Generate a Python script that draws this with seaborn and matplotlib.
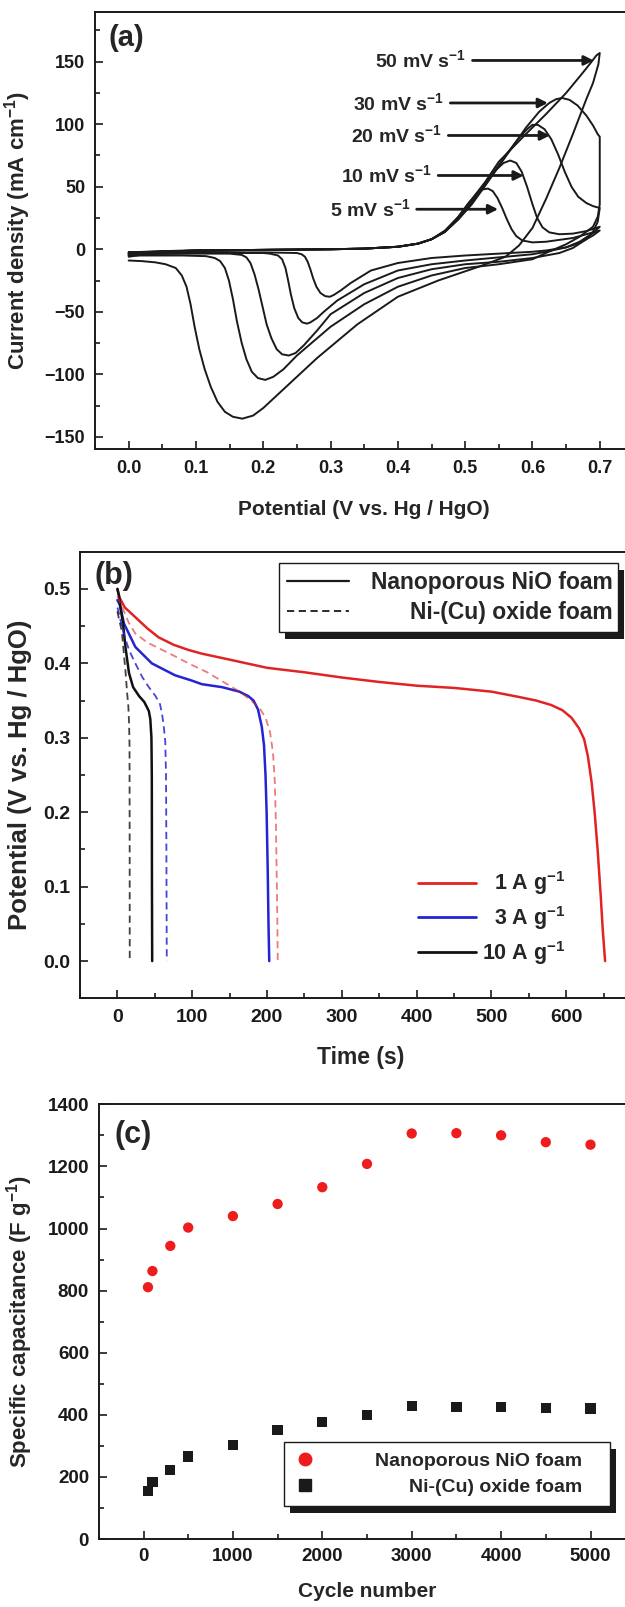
import numpy as np
import pandas as pd
import matplotlib
matplotlib.use("Agg")
import matplotlib.pyplot as plt
from matplotlib.lines import Line2D
from matplotlib.patches import Rectangle
from matplotlib.ticker import MultipleLocator, FormatStrFormatter
import seaborn as sns

# -- (a) cyclic voltammograms, potential (V) / current density -----------------
rates = ["5", "10", "20", "30", "50"]
cv5_e = [0.00, 0.05, 0.10, 0.20, 0.30, 0.35, 0.40, 0.43, 0.45, 0.47, 0.49, 0.505, 0.518, 0.527, 0.534,
         0.541, 0.548, 0.555, 0.562, 0.569, 0.576, 0.585, 0.60, 0.62, 0.66, 0.70,
         0.69, 0.67, 0.65, 0.62, 0.60, 0.55, 0.50, 0.45, 0.40, 0.36, 0.33, 0.315, 0.305, 0.299,
         0.292, 0.285, 0.279, 0.274, 0.27, 0.266, 0.262, 0.257, 0.25, 0.20, 0.10, 0.00]
cv5_i = [-2.5, -1.5, -1.0, -0.5, 0.0, 0.5, 2.0, 4.5, 8.0, 15, 26, 37, 45, 48, 48.5,
         46.5, 41, 33, 24, 16, 10.5, 7, 5.5, 6, 9, 15,
         11, 5, 1.5, -1, -2, -3.5, -5, -7, -11, -17, -27, -33, -36.5, -38,
         -37.5, -35, -30, -23, -16, -10, -6, -4, -3, -2.5, -2.5, -2.5]
cv10_e = [0.00, 0.05, 0.10, 0.20, 0.30, 0.35, 0.40, 0.43, 0.45, 0.47, 0.49, 0.51, 0.53, 0.545, 0.557,
          0.567, 0.576, 0.584, 0.592, 0.60, 0.607, 0.615, 0.625, 0.64, 0.66, 0.68, 0.70,
          0.69, 0.67, 0.65, 0.62, 0.60, 0.55, 0.50, 0.45, 0.40, 0.35, 0.31, 0.29, 0.28, 0.27,
          0.265, 0.258, 0.252, 0.246, 0.241, 0.237, 0.233, 0.228, 0.222, 0.21, 0.20, 0.10, 0.00]
cv10_i = [-3, -1.5, -1, -0.5, 0, 0.5, 2, 4.5, 8, 14, 25, 38, 53, 63, 69,
          71, 69, 62, 50, 36, 25, 17.5, 13.5, 12, 12.5, 14.5, 18,
          13, 6, 1.5, -2, -4, -6.5, -9, -12, -17, -28, -41, -50, -55, -58.5,
          -59.5, -58.5, -55, -47, -36, -25, -15, -8, -5, -3.5, -3, -3, -3.5]
cv20_e = [0.00, 0.05, 0.10, 0.20, 0.30, 0.35, 0.40, 0.43, 0.45, 0.47, 0.49, 0.51, 0.53, 0.56, 0.58,
          0.592, 0.60, 0.608, 0.618, 0.628, 0.638, 0.648, 0.658, 0.668, 0.68, 0.69, 0.70,
          0.697, 0.69, 0.68, 0.66, 0.64, 0.60, 0.55, 0.50, 0.45, 0.40, 0.35, 0.30, 0.28, 0.26,
          0.248, 0.238, 0.228, 0.22, 0.212, 0.205, 0.199, 0.193, 0.187, 0.181, 0.175, 0.168, 0.15,
          0.10, 0.00]
cv20_i = [-4, -2, -1, -0.5, 0, 0.5, 2, 4.5, 8, 14, 24, 37, 52, 75, 89,
          96, 99.5, 99.5, 96, 88, 76, 62, 50, 42, 37, 34.5, 33,
          22, 14, 8, 1, -3, -7, -10, -12, -16, -23, -35, -52, -65, -77,
          -83, -85, -84, -80, -71, -60, -46, -32, -20, -11, -6.5, -4.5, -3.5,
          -3.5, -4]
cv30_e = [0.00, 0.05, 0.10, 0.20, 0.30, 0.35, 0.40, 0.43, 0.45, 0.47, 0.49, 0.51, 0.53, 0.56, 0.59,
          0.61, 0.625, 0.635, 0.644, 0.655, 0.667, 0.68, 0.69, 0.697, 0.70, 0.70,
          0.697, 0.69, 0.67, 0.65, 0.62, 0.60, 0.55, 0.50, 0.45, 0.40, 0.35, 0.30, 0.25, 0.23,
          0.215, 0.203, 0.192, 0.183, 0.175, 0.168, 0.161, 0.155, 0.149, 0.143, 0.136, 0.128,
          0.115, 0.08, 0.00]
cv30_i = [-5, -2, -1, -0.5, 0, 0.5, 2, 4.5, 8, 14, 24, 36, 51, 74, 97,
          110, 117, 120, 121, 119.5, 115, 107, 99, 92, 90, 36,
          26, 18, 10, 4, -3, -8, -12, -15, -21, -30, -44, -62, -85, -96,
          -102, -104.5, -103, -98, -88, -75, -58, -40, -25, -15, -9.5, -7,
          -5.5, -5, -5]
cv50_e = [0.00, 0.05, 0.10, 0.20, 0.30, 0.35, 0.40, 0.43, 0.45, 0.47, 0.49, 0.51, 0.53, 0.55, 0.59,
          0.62, 0.65, 0.67, 0.685, 0.695, 0.70,
          0.698, 0.69, 0.68, 0.66, 0.64, 0.62, 0.60, 0.58, 0.56, 0.52, 0.46, 0.40, 0.34, 0.28,
          0.22, 0.20, 0.185, 0.169, 0.155, 0.143, 0.132, 0.122, 0.113, 0.105, 0.098, 0.092, 0.086,
          0.079, 0.07, 0.055, 0.04, 0.02, 0.00]
cv50_i = [-6, -2, -1, -0.5, 0, 0.5, 2, 4.5, 8, 14, 26, 40, 54, 70, 92,
          108, 125, 138, 148, 155, 157,
          148, 133, 120, 92, 65, 40, 17, 3, -6, -14, -25, -38, -60, -87,
          -117, -127, -133, -135.5, -134, -130, -122, -110, -96, -80, -62, -44, -30,
          -21, -15, -12, -10.5, -9.5, -9]
rate_labels = ["50 mV s$^{-1}$", "30 mV s$^{-1}$", "20 mV s$^{-1}$", "10 mV s$^{-1}$", "5 mV s$^{-1}$"]
label_pos = [(0.502, 151), (0.469, 117), (0.466, 91), (0.451, 59), (0.419, 32)]
arrow_tip = [0.691, 0.623, 0.626, 0.587, 0.549]

# -- (b) discharge curves, time (s) / potential (V) ---------------------------
nio_1a_t = [0, 3, 10, 24, 40, 55, 75, 95, 113, 150, 200, 250, 300, 350, 400, 450, 500, 536, 560,
            580, 595, 607, 617, 624, 629, 634, 638, 642, 646, 649, 652]
nio_1a_v = [0.500, 0.488, 0.475, 0.462, 0.447, 0.435, 0.425, 0.418, 0.413, 0.405, 0.394, 0.388,
            0.381, 0.375, 0.370, 0.367, 0.362, 0.355, 0.350, 0.344, 0.337, 0.327, 0.313, 0.298,
            0.275, 0.240, 0.200, 0.150, 0.090, 0.040, 0.000]
nio_3a_t = [0, 3, 9, 24, 46, 77, 99, 113, 140, 163, 175, 182, 188, 193, 196, 198, 199.5, 201, 202, 203]
nio_3a_v = [0.485, 0.479, 0.453, 0.422, 0.400, 0.384, 0.377, 0.372, 0.368, 0.362, 0.356, 0.350,
            0.338, 0.315, 0.290, 0.250, 0.200, 0.120, 0.050, 0.000]
nio_10a_t = [0, 2.2, 5, 7.5, 11, 15.5, 21, 29, 36, 42, 44, 45.5, 46, 46.2, 46.5]
nio_10a_v = [0.500, 0.490, 0.470, 0.453, 0.420, 0.387, 0.368, 0.356, 0.348, 0.336, 0.325, 0.300,
             0.250, 0.100, 0.000]
cu_1a_t = [0, 2, 6.6, 15, 24, 40, 60, 80, 95, 120, 145, 165, 180, 190, 198, 204, 208, 210.5, 212,
           213.5, 214.4]
cu_1a_v = [0.490, 0.485, 0.475, 0.455, 0.440, 0.428, 0.418, 0.408, 0.400, 0.388, 0.373, 0.361,
           0.349, 0.340, 0.327, 0.308, 0.280, 0.240, 0.180, 0.080, 0.000]
cu_3a_t = [0, 2, 4.4, 10, 15.5, 24, 33, 42, 51, 57, 60, 62, 64, 65, 65.5, 66]
cu_3a_v = [0.475, 0.468, 0.457, 0.435, 0.418, 0.400, 0.382, 0.368, 0.356, 0.345, 0.330, 0.315,
           0.295, 0.250, 0.150, 0.000]
cu_10a_t = [0, 2, 5.8, 8, 11, 13, 14.6, 15.6, 16.2, 16.4, 16.5]
cu_10a_v = [0.470, 0.460, 0.444, 0.420, 0.387, 0.360, 0.343, 0.320, 0.290, 0.150, 0.000]
current_labels = ["1 A g$^{-1}$", "3 A g$^{-1}$", "10 A g$^{-1}$"]
current_colors = ["#e02424", "#2424d4", "#111111"]
foam_labels = ["Nanoporous NiO foam", "Ni-(Cu) oxide foam"]

# -- (c) cycling stability -----------------------------------------------------
cycles = [50, 100, 300, 500, 1000, 1500, 2000, 2500, 3000, 3500, 4000, 4500, 5000]
nio_cap = [811, 863, 944, 1003, 1040, 1079, 1133, 1208, 1306, 1307, 1300, 1278, 1270]
cu_cap = [155, 184, 222, 266, 302, 350, 377, 400, 428, 426, 424, 421, 420]

# -- style ---------------------------------------------------------------------
sns.set_theme(style="ticks")
plt.rcParams["font.family"] = ["Liberation Sans", "DejaVu Sans"]
plt.rcParams["font.weight"] = "bold"
plt.rcParams["axes.labelweight"] = "bold"
plt.rcParams["mathtext.fontset"] = "custom"
plt.rcParams["mathtext.rm"] = "Liberation Sans:bold"
plt.rcParams["mathtext.bf"] = "Liberation Sans:bold"
plt.rcParams["mathtext.default"] = "bf"
plt.rcParams["axes.linewidth"] = 1.4

fig = plt.figure(figsize=(6.25, 16.07), dpi=100)
W, H = 625, 1607


def px_rect(l, t, r, b):
    return [l / W, 1 - b / H, (r - l) / W, (b - t) / H]


def style_axis(ax, size, xpad):
    ax.tick_params(which="both", direction="in", top=False, right=False, width=1.2,
                   colors="k", labelsize=size)
    ax.tick_params(which="major", length=6, pad=7)
    ax.tick_params(which="minor", length=3.5)
    ax.tick_params(axis="x", which="major", pad=xpad)
    for side in ("left", "bottom", "top", "right"):
        ax.spines[side].set_color("k")
        ax.spines[side].set_linewidth(1.4)
    ax.set_facecolor("none")


ax_a = fig.add_axes(px_rect(95, 11.7, 633.4, 449.3))
ax_b = fig.add_axes(px_rect(80, 551.7, 641, 998.3))
ax_c = fig.add_axes(px_rect(98.8, 1104.3, 635.2, 1539))

# -- panel (a) -----------------------------------------------------------------
cv = pd.concat([
    pd.DataFrame({"E": e, "I": i, "rate": r})
    for r, e, i in zip(rates, [cv5_e, cv10_e, cv20_e, cv30_e, cv50_e],
                       [cv5_i, cv10_i, cv20_i, cv30_i, cv50_i])
], ignore_index=True)
sns.lineplot(data=cv, x="E", y="I", units="rate", estimator=None, sort=False,
             color="k", lw=1.4, ax=ax_a)
for lab, (x, y), tip in zip(rate_labels, label_pos, arrow_tip):
    ax_a.annotate(lab, xy=(tip, y), xytext=(x, y), ha="right", va="center",
                  fontsize=14, fontweight="bold",
                  arrowprops=dict(arrowstyle="-|>", color="k", lw=2, mutation_scale=14,
                                  shrinkA=2, shrinkB=0))
ax_a.set_xlim(-0.05, 0.75)
ax_a.set_ylim(-160, 190)
ax_a.set_xticks(np.arange(0, 0.71, 0.1))
ax_a.xaxis.set_minor_locator(MultipleLocator(0.05))
ax_a.yaxis.set_major_locator(MultipleLocator(50))
ax_a.yaxis.set_minor_locator(MultipleLocator(25))
ax_a.xaxis.set_major_formatter(FormatStrFormatter("%.1f"))
style_axis(ax_a, 13, 7.5)
ax_a.set_xlabel("Potential (V vs. Hg / HgO)", fontsize=15, labelpad=17)
ax_a.set_ylabel("Current density (mA cm$^{-1}$)", fontsize=16, labelpad=8)
ax_a.text(0.025, 0.94, "(a)", transform=ax_a.transAxes, fontsize=21, fontweight="bold",
          va="center", ha="left")

# -- panel (b) -----------------------------------------------------------------
solid = [(nio_1a_t, nio_1a_v), (nio_3a_t, nio_3a_v), (nio_10a_t, nio_10a_v)]
dashed = [(cu_1a_t, cu_1a_v), (cu_3a_t, cu_3a_v), (cu_10a_t, cu_10a_v)]
dash_alpha = [0.6, 0.85, 0.8]
for (t, v), c in zip(solid, current_colors):
    sns.lineplot(x=t, y=v, sort=False, color=c, lw=1.8, ax=ax_b)
for (t, v), c, a in zip(dashed, current_colors, dash_alpha):
    sns.lineplot(x=t, y=v, sort=False, color=c, lw=1.3, alpha=a, ax=ax_b,
                 linestyle=(0, (4, 2.5)))
ax_b.set_xlim(-50, 700)
ax_b.set_ylim(-0.05, 0.55)
ax_b.set_xticks(range(0, 700, 100))
ax_b.xaxis.set_minor_locator(MultipleLocator(50))
ax_b.yaxis.set_major_locator(MultipleLocator(0.1))
ax_b.yaxis.set_minor_locator(MultipleLocator(0.05))
ax_b.yaxis.set_major_formatter(FormatStrFormatter("%.1f"))
style_axis(ax_b, 14, 8)
ax_b.set_xlabel("Time (s)", fontsize=16.5, labelpad=14)
ax_b.set_ylabel("Potential (V vs. Hg / HgO)", fontsize=18.5, labelpad=8)
ax_b.text(0.025, 0.945, "(b)", transform=ax_b.transAxes, fontsize=22, fontweight="bold",
          va="center", ha="left")

foam_handles = [Line2D([], [], color="k", lw=1.6),
                Line2D([], [], color="k", lw=1.3, linestyle=(0, (4, 2.5)))]
leg_b1 = ax_b.legend(foam_handles, foam_labels, loc="upper left",
                     bbox_to_anchor=(0.355, 0.831, 0.604, 0.144), mode="expand",
                     fontsize=16.5, frameon=True, fancybox=False, edgecolor="k",
                     framealpha=1, handlelength=2.7, borderpad=0.35, labelspacing=0.3,
                     borderaxespad=0)
leg_b1.get_frame().set_linewidth(1.0)
ax_b.add_artist(leg_b1)
cur_handles = [Line2D([], [], color=c, lw=2) for c in current_colors]
leg_b2 = ax_b.legend(cur_handles, current_labels, loc="upper left",
                     bbox_to_anchor=(0.602, 0.089, 0.264, 0.20), mode="expand",
                     fontsize=15.5, frameon=False, handlelength=2.7, handletextpad=0.5,
                     borderpad=0, labelspacing=0.32, borderaxespad=0)

# -- panel (c) -----------------------------------------------------------------
cap = pd.DataFrame({
    "cycle": cycles * 2,
    "cap": nio_cap + cu_cap,
    "foam": [foam_labels[0]] * len(cycles) + [foam_labels[1]] * len(cycles),
})
sns.scatterplot(data=cap, x="cycle", y="cap", hue="foam", style="foam",
                palette={foam_labels[0]: "#ee1c1c", foam_labels[1]: "k"},
                markers={foam_labels[0]: "o", foam_labels[1]: "s"},
                s=55, linewidth=0, ax=ax_c, legend=False)
ax_c.set_xlim(-500, 5500)
ax_c.set_ylim(0, 1400)
ax_c.set_xticks(range(0, 5001, 1000))
ax_c.xaxis.set_minor_locator(MultipleLocator(500))
ax_c.yaxis.set_major_locator(MultipleLocator(200))
ax_c.yaxis.set_minor_locator(MultipleLocator(100))
style_axis(ax_c, 13.5, 6.5)
ax_c.set_xlabel("Cycle number", fontsize=15, labelpad=12)
ax_c.set_ylabel("Specific capacitance (F g$^{-1}$)", fontsize=16, labelpad=9)
ax_c.text(0.03, 0.929, "(c)", transform=ax_c.transAxes, fontsize=22, fontweight="bold",
          va="center", ha="left")
cap_handles = [Line2D([], [], color="#ee1c1c", marker="o", ls="none", markersize=9),
               Line2D([], [], color="k", marker="s", ls="none", markersize=8)]
leg_c = ax_c.legend(cap_handles, foam_labels, loc="upper left",
                    bbox_to_anchor=(0.345, 0.083, 0.608, 0.139), mode="expand",
                    fontsize=14, frameon=True, fancybox=False, edgecolor="k", framealpha=1,
                    handlelength=1.2, borderpad=0.5, labelspacing=0.45, borderaxespad=0)
leg_c.get_frame().set_linewidth(1.0)

# -- right-aligned legend labels and hard shadows -------------------------------
fig.canvas.draw()
renderer = fig.canvas.get_renderer()


def right_align(leg, right_px):
    for t in leg.get_texts():
        bb = t.get_window_extent(renderer)
        t.set_x(t.get_position()[0] + right_px - bb.x1)


def hard_shadow(ax, leg, dx=6, dy=7):
    bb = leg.get_frame().get_window_extent(renderer)
    inv = ax.transAxes.inverted()
    (x0, y0), (x1, y1) = inv.transform([[bb.x0 + dx, bb.y0 - dy], [bb.x1 + dx, bb.y1 - dy]])
    ax.add_patch(Rectangle((x0, y0), x1 - x0, y1 - y0, transform=ax.transAxes,
                           facecolor="k", edgecolor="none", zorder=leg.get_zorder() - 0.1,
                           clip_on=False))


bb1 = leg_b1.get_frame().get_window_extent(renderer)
right_align(leg_b1, bb1.x1 - 5)
right_align(leg_b2, ax_b.transAxes.transform((0.866, 0))[0])
bbc = leg_c.get_frame().get_window_extent(renderer)
right_align(leg_c, bbc.x1 - 28)
hard_shadow(ax_b, leg_b1)
hard_shadow(ax_c, leg_c)

fig.savefig("out.png", dpi=100)
